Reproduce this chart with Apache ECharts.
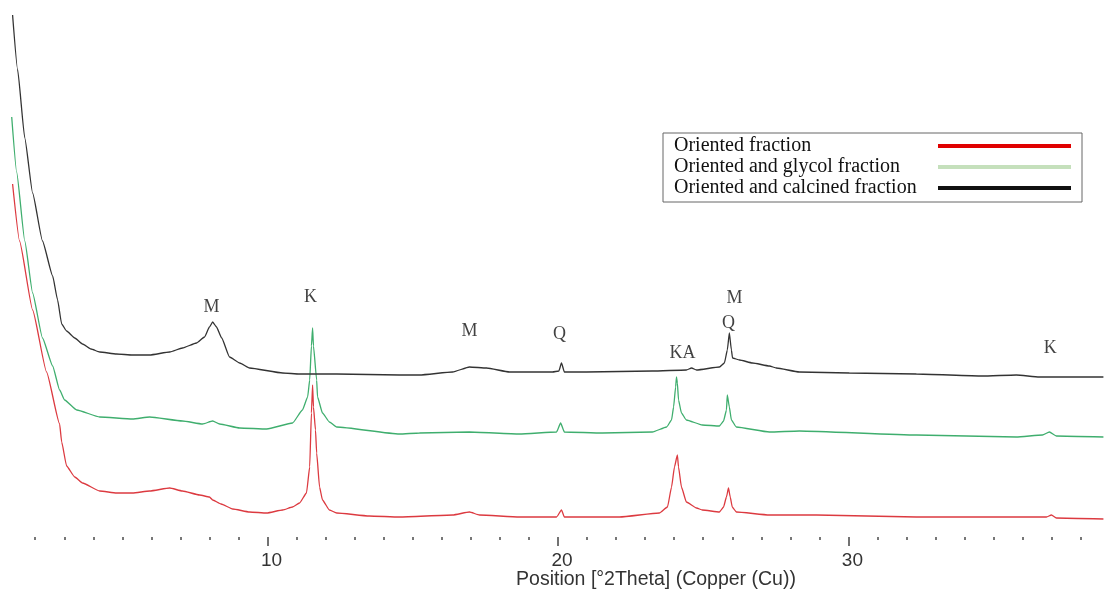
<!DOCTYPE html>
<html>
<head>
<meta charset="utf-8">
<script src="https://cdn.jsdelivr.net/npm/echarts@6/dist/echarts.min.js"></script>
<style>
html,body{margin:0;padding:0;background:#fff;}
#chart{width:1104px;height:590px;}
</style>
</head>
<body>
<div id="chart"></div>
<script>
// Series names
const seriesNames = ['Oriented fraction', 'Oriented and glycol fraction', 'Oriented and calcined fraction'];

// [2Theta, intensity (arbitrary units)]
const orientedData = [
  [1.22,353],[1.46,296],[1.91,227],[2.39,165],[2.84,113],[2.91,95],[3.08,71],[3.36,60],[3.63,54],
  [4.22,46],[4.80,44],[5.35,44],[5.94,46],[6.63,49],[7.07,46],[7.66,42],[8.00,40],[8.11,37],
  [8.40,33],[8.80,28],[9.38,25],[9.97,24],[10.52,27],[10.86,30],[11.10,34],[11.34,44],[11.45,70],
  [11.51,124],[11.55,152],[11.58,130],[11.65,107],[11.69,84],[11.79,50],[11.89,37],[12.13,27],
  [12.38,24],[13.50,21],[14.54,20],[16.37,22],[16.95,25],[17.30,22],[18.67,20],[19.95,20],
  [20.12,27],[20.22,20],[22.12,20],[23.49,24],[23.77,30],[23.91,50],[24.01,70],[24.11,82],
  [24.15,70],[24.25,50],[24.42,35],[24.77,29],[24.97,27],[25.56,25],[25.70,30],[25.80,40],
  [25.87,49],[25.93,40],[26.00,30],[26.14,25],[27.28,22],[28.90,22],[32.34,20],[35.78,20],
  [36.82,20],[36.99,22],[37.16,19],[38.78,18]
];
const glycolData = [
  [1.19,420],[1.36,365],[1.64,296],[1.91,244],[2.25,199],[2.60,171],[2.84,147],[3.01,137],
  [3.43,127],[4.22,120],[5.35,118],[5.94,120],[7.07,116],[7.76,113],[8.11,116],[8.35,113],
  [9.04,109],[9.97,108],[10.86,114],[11.20,127],[11.38,140],[11.45,157],[11.51,191],[11.55,209],
  [11.58,191],[11.69,157],[11.72,140],[11.89,124],[12.13,115],[12.38,110],[14.54,103],[15.23,104],
  [16.95,105],[18.67,103],[19.95,105],[20.09,114],[20.22,105],[21.53,104],[23.25,105],[23.74,110],
  [23.91,117],[23.98,130],[24.05,150],[24.08,160],[24.11,154],[24.15,137],[24.25,124],[24.42,117],
  [24.97,112],[25.56,111],[25.70,116],[25.80,127],[25.83,142],[25.90,130],[25.97,117],[26.14,110],
  [27.28,105],[28.31,106],[32.34,102],[35.78,100],[36.68,102],[36.92,105],[37.16,101],[38.78,100]
];
const calcinedData = [
  [1.22,522],[1.39,468],[1.64,399],[1.91,344],[2.25,296],[2.60,261],[2.77,237],[2.91,213],
  [3.08,206],[3.36,199],[3.63,193],[3.92,188],[4.22,185],[4.80,183],[5.35,182],[5.94,182],
  [6.63,185],[7.07,189],[7.55,194],[7.83,200],[8.00,210],[8.11,215],[8.24,210],[8.42,199],
  [8.69,180],[9.04,174],[9.38,169],[10.52,164],[11.10,163],[12.38,163],[14.54,162],[15.23,162],
  [16.37,165],[16.95,170],[17.54,169],[18.33,165],[19.81,165],[20.03,166],[20.12,174],[20.22,165],
  [20.98,165],[23.25,166],[24.42,167],[24.60,169],[24.77,167],[25.56,170],[25.73,174],[25.83,187],
  [25.90,204],[25.97,187],[26.01,179],[26.25,177],[26.70,174],[27.28,171],[27.52,169],[28.31,165],
  [30.03,164],[32.34,163],[34.61,161],[35.78,162],[36.57,160],[37.16,160],[38.78,160]
];

// Peak annotations
const peakNames  = ['M', 'K', 'M', 'Q', 'KA', 'M', 'Q', 'K'];
const peakTheta  = [8.07, 11.48, 16.95, 20.05, 24.29, 26.08, 25.87, 36.95];
const peakHeight = [230, 240, 206, 203, 184, 239, 214, 189];

// Axis ticks
const majorTicks = [10, 20, 30];
const minorTicks = [2,3,4,5,6,7,8,9,11,12,13,14,15,16,17,18,19,21,22,23,24,25,26,27,28,29,31,32,33,34,35,36,37,38];
const xTitle = 'Position [°2Theta] (Copper (Cu))';

const seriesColors = ['#dc3a40', '#3fae6e', '#333333'];
const legendColors = ['#e00000', '#c5e0bc', '#111111'];

const chart = echarts.init(document.getElementById('chart'), null, {renderer: 'canvas'});

const serif = '"Liberation Serif", "Times New Roman", serif';
const sans = '"Liberation Sans", Arial, sans-serif';

const lineSeries = [orientedData, glycolData, calcinedData].map((d, i) => ({
  name: seriesNames[i],
  type: 'line',
  data: d,
  symbol: 'none',
  smooth: 0.15,
  smoothMonotone: 'x',
  lineStyle: {color: seriesColors[i], width: 1.3},
  itemStyle: {color: seriesColors[i]},
  z: 2 + i,
  silent: true
}));

const peakSeries = {
  name: 'peaks',
  type: 'scatter',
  data: peakNames.map((n, i) => [peakTheta[i], peakHeight[i], n]),
  symbolSize: 0,
  silent: true,
  label: {
    show: true,
    position: 'inside',
    formatter: p => p.data[2],
    fontFamily: serif,
    fontSize: 18,
    color: '#111'
  },
  z: 10
};

const option = {
  animation: false,
  backgroundColor: '#fff',
  grid: {left: 12, right: 0, top: 0, bottom: 53, containLabel: false, outerBoundsMode: 'none'},
  xAxis: [
    {
      type: 'value', position: 'bottom', min: 1.2, max: 38.8,
      axisLine: {show: false, onZero: false},
      splitLine: {show: false},
      axisTick: {show: true, customValues: minorTicks, length: 3, lineStyle: {color: '#777', width: 2}},
      axisLabel: {show: false}
    },
    {
      type: 'value', position: 'bottom', min: 1.2, max: 38.8,
      axisLine: {show: false, onZero: false},
      splitLine: {show: false},
      axisTick: {show: true, customValues: majorTicks, length: 9, lineStyle: {color: '#444', width: 1.5}},
      axisLabel: {show: true, customValues: majorTicks, margin: 14, fontFamily: sans, fontSize: 19, color: '#333', padding: [0, 0, 0, 8]},
      name: xTitle,
      nameLocation: 'middle',
      nameGap: 33,
      nameMoveOverlap: false,
      nameTextStyle: {fontFamily: sans, fontSize: 19.5, color: '#333', padding: [0, 0, 0, 196]}
    }
  ],
  yAxis: {type: 'value', min: 0, max: 537, show: false},
  legend: {
    orient: 'vertical',
    left: 663, top: 133,
    align: 'right',
    padding: [3, 11, 4, 11],
    itemGap: 1,
    itemWidth: 133,
    itemHeight: 4,
    icon: 'rect',
    selectedMode: false,
    borderColor: '#666',
    borderWidth: 1,
    backgroundColor: '#fff',
    formatter: '{t|{name}}',
    textStyle: {
      rich: {t: {width: 259, align: 'left', fontFamily: serif, fontSize: 20, lineHeight: 17, color: '#111'}}
    },
    data: seriesNames.map((n, i) => ({name: n, itemStyle: {color: legendColors[i]}}))
  },
  series: [...lineSeries, peakSeries]
};
chart.setOption(option);
</script>
</body>
</html>
